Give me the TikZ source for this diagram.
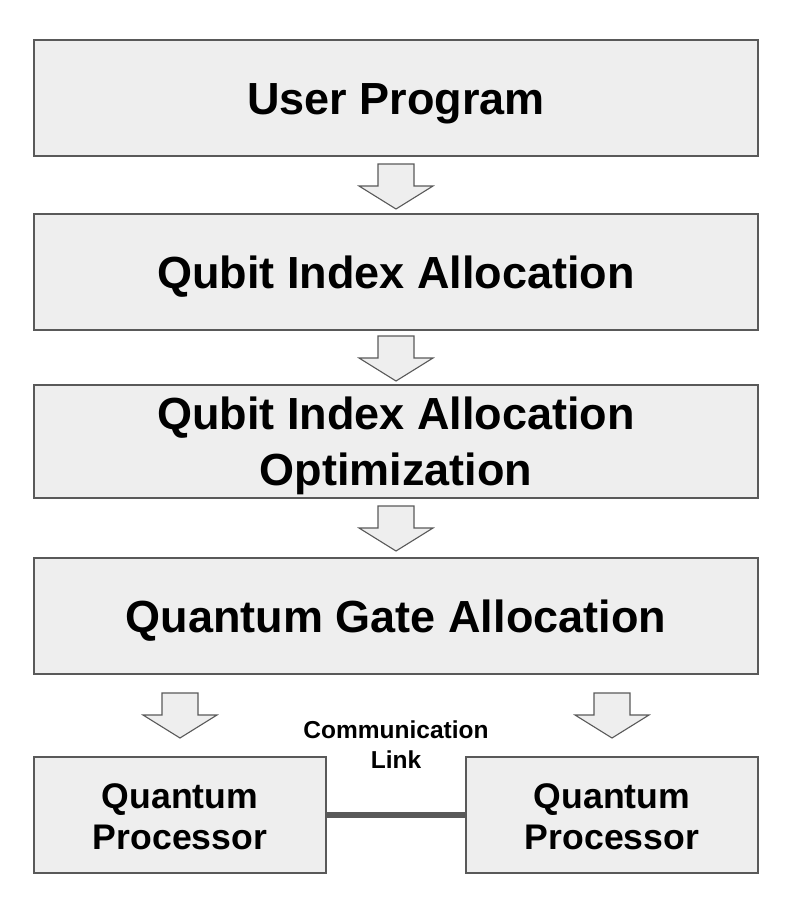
\documentclass[tikz,border=0pt]{standalone}
\usepackage{fontspec}
\setmainfont{Liberation Sans}
\definecolor{boxfill}{HTML}{EEEEEE}
\definecolor{boxline}{HTML}{595959}
\begin{document}
\begin{tikzpicture}[x=1pt,y=-1pt,
  boxshape/.style={draw=boxline, line width=2pt, fill=boxfill, inner sep=0pt},
  stagebox/.style={boxshape, align=center, text height=32.2pt, text depth=0pt,
     font=\bfseries\fontsize{45}{56}\selectfont},
  stagetext/.style={align=center, inner sep=0pt, font=\bfseries\fontsize{45}{56}\selectfont},
  proctext/.style={align=center, inner sep=0pt, font=\bfseries\fontsize{35.6}{41}\selectfont},
  blockarrow/.pic={
     \draw[draw=boxline, line width=1.1pt, fill=boxfill, line join=miter]
       (-18,0) -- (18,0) -- (18,22) -- (37,22) -- (0,45) -- (-37,22) -- (-18,22) -- cycle;
  }]
\useasboundingbox (0,0) rectangle (806,916);
\node[stagebox, minimum width=724pt, minimum height=116pt] (user) at (396,98) {User Program};
\node[stagebox, minimum width=724pt, minimum height=116pt] (qia) at (396,272) {Qubit Index Allocation};
\node[boxshape, minimum width=724pt, minimum height=113pt] (qiao) at (396,441.5) {};
\node[stagetext] (qiaot) at ([yshift=-4pt]qiao.center) {Qubit Index Allocation\\Optimization};
\node[stagebox, minimum width=724pt, minimum height=116pt] (qga) at (396,616) {Quantum Gate Allocation};
\node[boxshape, minimum width=292pt, minimum height=116pt] (qp1) at (180,815) {};
\node[proctext] (qp1t) at ([yshift=-2pt]qp1.center) {Quantum\\Processor};
\node[boxshape, minimum width=292pt, minimum height=116pt] (qp2) at (612,815) {};
\node[proctext] (qp2t) at ([yshift=-2pt]qp2.center) {Quantum\\Processor};
\pic at (396,164) {blockarrow};
\pic at (396,336) {blockarrow};
\pic at (396,506) {blockarrow};
\pic at (180,693) {blockarrow};
\pic at (612,693) {blockarrow};
\draw[boxline, line width=6pt] (qp1.east) -- (qp2.west);
\node[font=\bfseries\fontsize{24.5}{30}\selectfont, align=center] (link) at (396,745) {Communication\\Link};
\end{tikzpicture}
\end{document}
